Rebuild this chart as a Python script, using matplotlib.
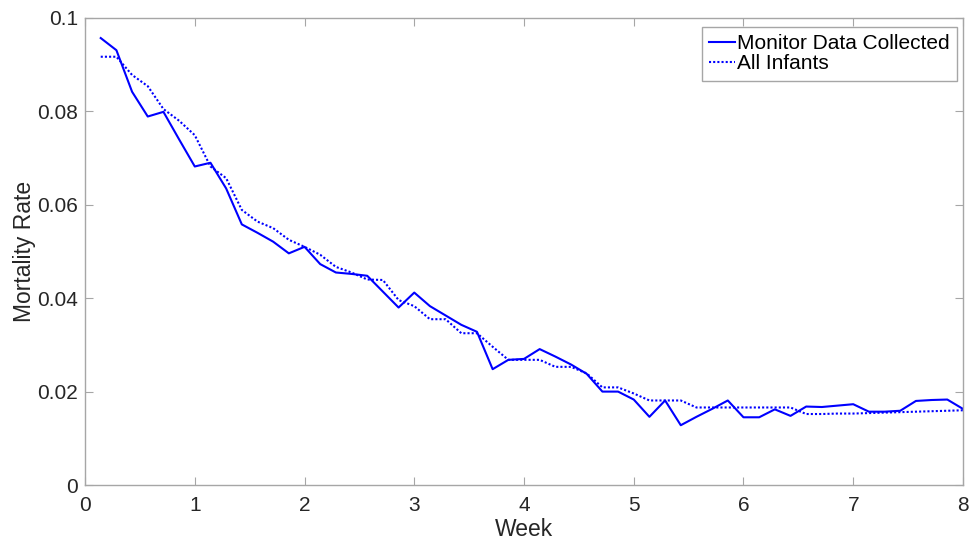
import numpy as np
import matplotlib.pyplot as plt

plt.rcParams['font.family'] = ['Liberation Sans', 'DejaVu Sans']

# daily points, expressed in weeks
days = np.arange(1, 57)
week = days / 7.0

monitor = [0.0957, 0.0931, 0.0842, 0.0789, 0.0799, 0.0740, 0.0682, 0.0690, 0.0635, 0.0558,
           0.0540, 0.0521, 0.0496, 0.0510, 0.0473, 0.0455, 0.0452, 0.0448, 0.0414, 0.0380,
           0.0412, 0.0383, 0.0363, 0.0343, 0.0328, 0.0248, 0.0268, 0.0270, 0.0291, 0.0275,
           0.0258, 0.0238, 0.0200, 0.0200, 0.0183, 0.0146, 0.0181, 0.0128, 0.0146, 0.0163,
           0.0181, 0.0145, 0.0145, 0.0162, 0.0148, 0.0168, 0.0167, 0.0170, 0.0173, 0.0157,
           0.0157, 0.0159, 0.0180, 0.0182, 0.0183, 0.0163]

all_infants = [0.0917, 0.0917, 0.0878, 0.0854, 0.0805, 0.0780, 0.0749, 0.0682, 0.0657, 0.0589,
               0.0564, 0.0550, 0.0525, 0.0510, 0.0493, 0.0467, 0.0455, 0.0440, 0.0439, 0.0396,
               0.0383, 0.0355, 0.0355, 0.0325, 0.0325, 0.0296, 0.0268, 0.0268, 0.0268, 0.0253,
               0.0253, 0.0239, 0.0209, 0.0209, 0.0196, 0.0181, 0.0181, 0.0181, 0.0166, 0.0166,
               0.0166, 0.0166, 0.0166, 0.0166, 0.0166, 0.0152, 0.0152, 0.0153, 0.0153, 0.0154,
               0.0155, 0.0156, 0.0157, 0.0158, 0.0159, 0.0160]

fig = plt.figure(figsize=(9.72, 5.43), dpi=100)
ax = fig.add_axes([0.0875, 0.1068, 0.9032, 0.8601])

ax.plot(week, monitor, color='#0000ff', lw=1.5, label='Monitor Data Collected')
ax.plot(week, all_infants, color='#0000ff', lw=1.5, ls=(0, (1, 1)), label='All Infants')

ax.set_xlim(0, 8)
ax.set_ylim(0, 0.1)
ax.set_xticks(np.arange(0, 9, 1))
ax.set_yticks([0, 0.02, 0.04, 0.06, 0.08, 0.1])
ax.set_yticklabels(['0', '0.02', '0.04', '0.06', '0.08', '0.1'])

for s in ax.spines.values():
    s.set_color('#a6a6a6')
    s.set_linewidth(1.0)
ax.tick_params(direction='in', top=True, right=True, length=6, color='#a6a6a6',
               labelcolor='#262626', labelsize=15)
ax.tick_params(axis='x', pad=8)
ax.tick_params(axis='y', pad=5)

ax.set_xlabel('Week', fontsize=16.5, color='#262626', labelpad=2)
ax.set_ylabel('Mortality Rate', fontsize=16.5, color='#262626', labelpad=1)

leg = ax.legend(loc='upper right', bbox_to_anchor=(0.9932, 0.9807), fontsize=15,
                fancybox=False, framealpha=1, edgecolor='#a6a6a6', handlelength=1.25,
                handletextpad=0.1, borderpad=0.35, labelspacing=0.05, borderaxespad=0)
leg.get_frame().set_linewidth(1.0)

plt.savefig('out.png', dpi=100)
